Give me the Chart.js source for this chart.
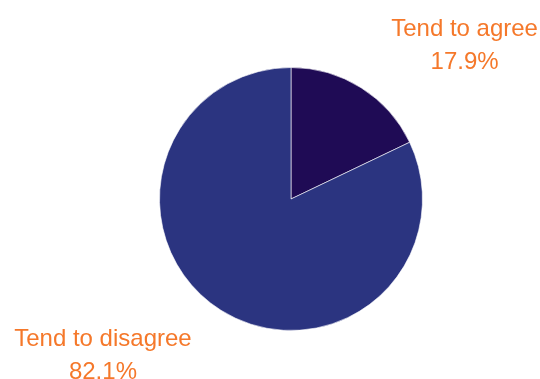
<!DOCTYPE html>
<html>
<head>
<meta charset="utf-8">
<script src="https://cdn.jsdelivr.net/npm/chart.js"></script>
<style>
  html, body { margin: 0; padding: 0; background: #fff; }
  #wrap { width: 540px; height: 379px; }
</style>
</head>
<body>
<div id="wrap"><canvas id="pie"></canvas></div>
<script>
const categories = ["Tend to agree", "Tend to disagree"];
const shares = [17.9, 82.1];
const sliceColors = ["#1f0b55", "#2b3480"];
const labelColor = "#f5782a";

// Two-line labels (name + percent) placed outside the pie, one per corner
const cornerLabels = {
    id: "cornerLabels",
    afterDatasetsDraw(chart) {
        const ctx = chart.ctx;
        const arcs = chart.getDatasetMeta(0).data;
        ctx.save();
        ctx.font = "24px 'Liberation Sans', Arial, sans-serif";
        ctx.fillStyle = labelColor;
        ctx.textAlign = "center";
        ctx.textBaseline = "middle";
        arcs.forEach((arc, i) => {
            const r = arc.outerRadius;
            const mid = (arc.startAngle + arc.endAngle) / 2;
            const right = Math.cos(mid) >= 0;
            const x = arc.x + (right ? 1.32 : -1.43) * r;
            const y = right ? arc.y - r * 1.165 : arc.y + r * 1.19;
            ctx.fillText(categories[i], x, y - 16);
            ctx.fillText(shares[i].toFixed(1) + "%", x, y + 17);
        });
        ctx.restore();
    }
};

new Chart(document.getElementById("pie").getContext("2d"), {
    type: "pie",
    data: {
        labels: categories,
        datasets: [{
            data: shares,
            backgroundColor: sliceColors,
            borderColor: "rgba(255,255,255,0.6)",
            borderWidth: 1
        }]
    },
    options: {
        responsive: true,
        maintainAspectRatio: false,
        animation: false,
        events: [],
        layout: {
            padding: { top: 67, bottom: 48, left: 159, right: 117 }
        },
        plugins: {
            legend: { display: false },
            tooltip: { enabled: false }
        }
    },
    plugins: [cornerLabels]
});
</script>
</body>
</html>
